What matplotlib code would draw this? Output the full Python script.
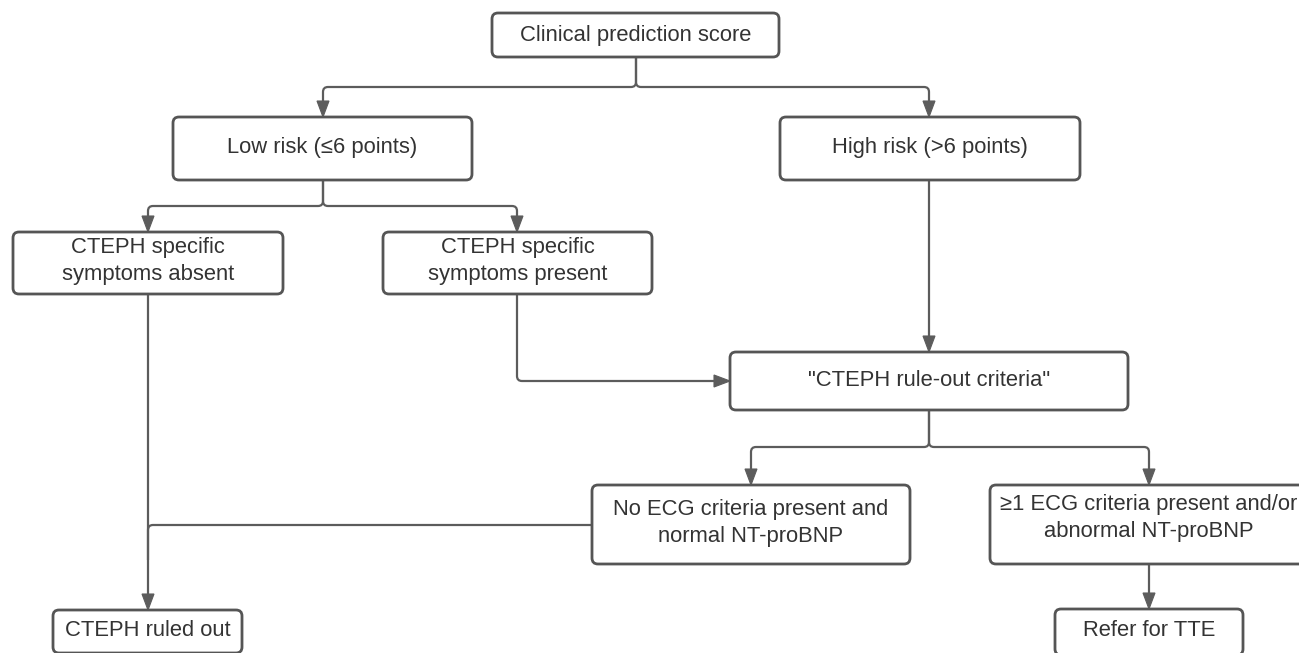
import matplotlib
matplotlib.use("Agg")
import matplotlib.pyplot as plt
from matplotlib.patches import FancyBboxPatch, PathPatch, Polygon
from matplotlib.path import Path

# Texto de cada caja del diagrama
etiquetas = [
    "Clinical prediction score",
    "Low risk (\u22646 points)",
    "High risk (>6 points)",
    "CTEPH specific\nsymptoms absent",
    "CTEPH specific\nsymptoms present",
    "\"CTEPH rule-out criteria\"",
    "No ECG criteria present and\nnormal NT-proBNP",
    "\u22651 ECG criteria present and/or\nabnormal NT-proBNP",
    "CTEPH ruled out",
    "Refer for TTE",
]

# Cajas en pixeles: x0, y0, x1, y1 y centro vertical del texto
cajas = [
    (492, 13, 779, 57, 35),
    (173, 117, 472, 180, 148),
    (780, 117, 1080, 180, 148),
    (13, 232, 283, 294, 261),
    (383, 232, 652, 294, 261),
    (730, 352, 1128, 410, 381),
    (592, 485, 910, 564, 523),
    (990, 485, 1308, 564, 518),
    (53, 610, 242, 653, 630),
    (1055, 609, 1243, 655, 630),
]

# Conectores (polilineas); flecha al final si el ultimo valor es True
conectores = [
    ([(636, 57), (636, 87), (323, 87), (323, 117)], True),
    ([(636, 57), (636, 87), (929, 87), (929, 117)], True),
    ([(323, 180), (323, 206), (148, 206), (148, 232)], True),
    ([(323, 180), (323, 206), (517, 206), (517, 232)], True),
    ([(929, 180), (929, 352)], True),
    ([(517, 294), (517, 381), (730, 381)], True),
    ([(148, 294), (148, 610)], True),
    ([(592, 525), (148, 525), (148, 560)], False),
    ([(929, 410), (929, 447), (751, 447), (751, 485)], True),
    ([(929, 410), (929, 447), (1149, 447), (1149, 485)], True),
    ([(1149, 564), (1149, 609)], True),
]

color_linea = "#5c5c5c"
color_borde = "#555555"
color_texto = "#333333"

fig = plt.figure(figsize=(12.99, 6.53), dpi=100)
ax = fig.add_axes([0, 0, 1, 1])
ax.set_xlim(0, 1299)
ax.set_ylim(653, 0)
ax.axis("off")


def camino_redondeado(puntos, r=5):
    # Polilinea con esquinas redondeadas (curvas cuadraticas)
    verts = [puntos[0]]
    codes = [Path.MOVETO]
    for i in range(1, len(puntos) - 1):
        (x0, y0), (x1, y1), (x2, y2) = puntos[i - 1], puntos[i], puntos[i + 1]
        d1 = ((x1 - x0) ** 2 + (y1 - y0) ** 2) ** 0.5
        d2 = ((x2 - x1) ** 2 + (y2 - y1) ** 2) ** 0.5
        a = (x1 - (x1 - x0) / d1 * r, y1 - (y1 - y0) / d1 * r)
        b = (x1 + (x2 - x1) / d2 * r, y1 + (y2 - y1) / d2 * r)
        verts += [a, (x1, y1), b]
        codes += [Path.LINETO, Path.CURVE3, Path.CURVE3]
    verts.append(puntos[-1])
    codes.append(Path.LINETO)
    return Path(verts, codes)


largo_punta = 16
ancho_punta = 12

for puntos, flecha in conectores:
    pts = list(puntos)
    if flecha:
        (xa, ya), (xb, yb) = pts[-2], pts[-1]
        d = ((xb - xa) ** 2 + (yb - ya) ** 2) ** 0.5
        ux, uy = (xb - xa) / d, (yb - ya) / d
        base = (xb - ux * largo_punta, yb - uy * largo_punta)
        pts[-1] = base
        px, py = -uy, ux
        tri = [(xb, yb),
               (base[0] + px * ancho_punta / 2, base[1] + py * ancho_punta / 2),
               (base[0] - px * ancho_punta / 2, base[1] - py * ancho_punta / 2)]
        ax.add_patch(Polygon(tri, closed=True, facecolor=color_linea,
                             edgecolor=color_linea, lw=0.8, zorder=3))
    ax.add_patch(PathPatch(camino_redondeado(pts), fill=False,
                           edgecolor=color_linea, lw=1.6, capstyle="butt",
                           zorder=2))

for texto, (x0, y0, x1, y1, yt) in zip(etiquetas, cajas):
    ax.add_patch(FancyBboxPatch((x0, y0), x1 - x0, y1 - y0,
                                boxstyle="round,pad=0,rounding_size=6",
                                facecolor="white", edgecolor=color_borde,
                                lw=2.0, zorder=4))
    ax.text((x0 + x1) / 2, yt, texto, ha="center", va="center",
            fontsize=15.8, color=color_texto, family="Liberation Sans",
            linespacing=1.32, zorder=5)

fig.savefig("out.png", dpi=100, facecolor="white")
